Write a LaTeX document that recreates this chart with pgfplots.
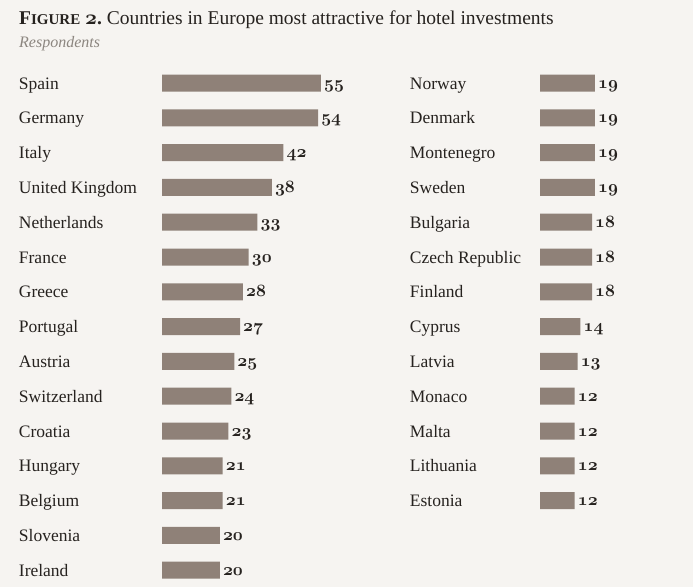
\documentclass[border=0pt]{standalone}
\usepackage{pgfplots}
\pgfplotsset{compat=1.18}
\usepackage{pgfplotstable}
\usepackage{fontspec}
\setmainfont{Liberation Serif}
\definecolor{bg}{RGB}{246,244,241}
\definecolor{barc}{RGB}{143,129,120}
\definecolor{txt}{RGB}{38,34,31}
\definecolor{sub}{RGB}{140,134,128}
% old-style bold figures from Computer Modern
\newcommand\osf[1]{{\usefont{OML}{cmm}{b}{it}#1}}

\pgfplotstableread[col sep=comma]{
country,val
Spain,55
Germany,54
Italy,42
United Kingdom,38
Netherlands,33
France,30
Greece,28
Portugal,27
Austria,25
Switzerland,24
Croatia,23
Hungary,21
Belgium,21
Slovenia,20
Ireland,20
}\lefttab

\pgfplotstableread[col sep=comma]{
country,val
Norway,19
Denmark,19
Montenegro,19
Sweden,19
Bulgaria,18
Czech Republic,18
Finland,18
Cyprus,14
Latvia,13
Monaco,12
Malta,12
Lithuania,12
Estonia,12
}\righttab

\pgfplotsset{
  hbars/.style={
    anchor=north west, scale only axis,
    x=2.89pt, height=522pt,
    xmin=0, ymin=-0.5, ymax=14.5, y dir=reverse,
    axis line style={draw=none}, major tick style={draw=none},
    xtick=\empty, ytick={0,...,14},
    yticklabel style={anchor=base west, inner sep=0pt, yshift=-6pt, text=txt,
      font=\fontsize{17.5}{20}\selectfont},
    xbar, bar width=17pt, bar shift=0pt,
    point meta=x,
    nodes near coords={\osf{\pgfmathprintnumber[assume math mode=true]{\pgfplotspointmeta}}},
    nodes near coords style={anchor=base west, inner sep=0pt, xshift=3pt, yshift=-5pt, text=txt,
      font=\fontsize{16.5}{18}\selectfont},
    clip=false,
  }
}

\begin{document}
\begin{tikzpicture}
\fill[bg] (0pt,0pt) rectangle (693pt,-587pt);
\node[anchor=base west, inner sep=0pt, text=txt] at (19pt,-25pt)
  {\fontsize{19.5}{22}\selectfont\bfseries F{\fontsize{15}{15}\selectfont IGURE} \osf{2}.\mdseries\ Countries in Europe most attractive for hotel investments};
\node[anchor=base west, inner sep=0pt, text=sub] at (19pt,-48pt)
  {\fontsize{16}{18}\selectfont\itshape Respondents};

\begin{axis}[hbars, at={(162pt,-65.6pt)}, xmax=55,
  yticklabels from table={\lefttab}{country},
  yticklabel style={xshift=-139pt}]
\addplot[fill=barc, draw=none] table[x=val, y expr=\coordindex] {\lefttab};
\end{axis}

\begin{axis}[hbars, at={(540pt,-65.6pt)}, xmax=45,
  ytick={0,...,12},
  yticklabels from table={\righttab}{country},
  yticklabel style={xshift=-126pt}]
\addplot[fill=barc, draw=none] table[x=val, y expr=\coordindex] {\righttab};
\end{axis}
\end{tikzpicture}
\end{document}
